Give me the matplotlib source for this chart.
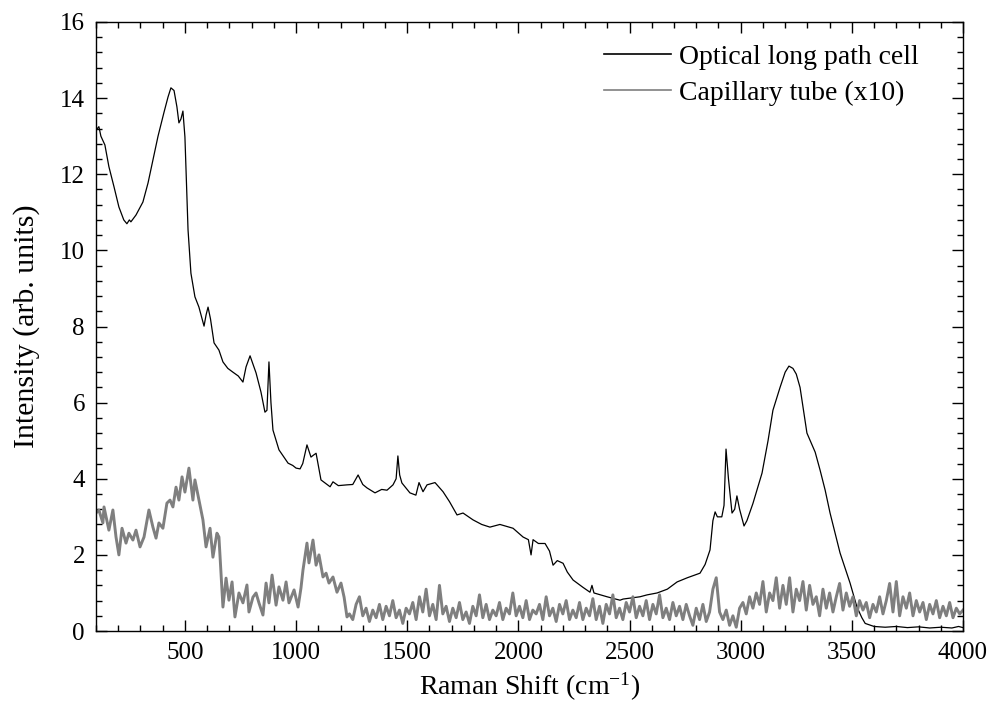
import matplotlib
matplotlib.use("Agg")
import matplotlib.pyplot as plt
from matplotlib.ticker import MultipleLocator
import numpy as np

plt.rcParams['font.family'] = ['Liberation Serif', 'DejaVu Serif']
plt.rcParams['mathtext.default'] = 'regular'

# ---- optical long path cell (black) ----
cell_x = [100, 113, 122, 140, 158, 181, 203, 225, 239, 250, 257, 280, 311, 334, 356,
          379, 406, 424, 437, 451, 464, 473, 482, 491, 500, 514, 527, 545, 563, 586,
          595, 604, 615, 631, 653, 671, 693, 716, 740, 761, 775, 793, 820, 842, 860,
          869, 878, 887, 896, 923, 964, 985, 1000, 1018, 1030, 1049, 1067, 1078, 1090,
          1112, 1153, 1166, 1190, 1229, 1255, 1279, 1300, 1319, 1355, 1385, 1409, 1436,
          1450, 1458, 1466, 1476, 1512, 1539, 1553, 1571, 1589, 1625, 1661, 1690, 1724,
          1751, 1796, 1835, 1872, 1917, 1976, 2021, 2045, 2057, 2066, 2090, 2120, 2140,
          2156, 2175, 2201, 2220, 2246, 2290, 2322, 2331, 2340, 2399, 2457, 2471, 2547,
          2579, 2624, 2670, 2714, 2760, 2817, 2840, 2862, 2875, 2885, 2895, 2915, 2925,
          2934, 2945, 2961, 2973, 2983, 2995, 3015, 3028, 3055, 3096, 3123, 3145, 3177,
          3200, 3217, 3235, 3250, 3267, 3298, 3335, 3357, 3380, 3402, 3447, 3492, 3523,
          3545, 3560, 3600, 3650, 3700, 3750, 3800, 3850, 3900, 3950, 3980, 4000]
cell_y = [13.16, 13.25, 13.0, 12.77, 12.2, 11.67, 11.14, 10.8, 10.7, 10.8, 10.75, 10.93,
          11.27, 11.77, 12.37, 13.0, 13.63, 14.03, 14.27, 14.2, 13.77, 13.35, 13.45, 13.66,
          12.98, 10.54, 9.4, 8.78, 8.51, 8.01, 8.3, 8.51, 8.2, 7.57, 7.38, 7.07, 6.9, 6.8,
          6.7, 6.54, 6.94, 7.23, 6.78, 6.28, 5.75, 5.8, 7.07, 6.0, 5.28, 4.76, 4.41, 4.35,
          4.28, 4.26, 4.4, 4.89, 4.57, 4.62, 4.67, 3.97, 3.79, 3.92, 3.82, 3.84, 3.85, 4.1,
          3.85, 3.76, 3.63, 3.72, 3.7, 3.84, 4.0, 4.6, 4.1, 3.89, 3.63, 3.57, 3.9, 3.66, 3.84,
          3.9, 3.66, 3.4, 3.05, 3.1, 2.92, 2.8, 2.73, 2.8, 2.7, 2.47, 2.4, 2.0, 2.4, 2.3, 2.3,
          2.1, 1.73, 1.85, 1.78, 1.55, 1.34, 1.15, 1.02, 1.2, 1.0, 0.9, 0.81, 0.84, 0.9, 0.95,
          1.0, 1.1, 1.29, 1.4, 1.52, 1.75, 2.13, 2.9, 3.13, 3.0, 3.0, 3.3, 4.78, 4.0, 3.1,
          3.2, 3.55, 3.2, 2.76, 2.9, 3.35, 4.15, 5.0, 5.8, 6.4, 6.8, 6.96, 6.9, 6.75, 6.4,
          5.2, 4.7, 4.23, 3.7, 3.1, 2.05, 1.26, 0.63, 0.35, 0.2, 0.12, 0.1, 0.12, 0.09, 0.11,
          0.08, 0.1, 0.08, 0.12, 0.09]

# ---- capillary tube x10 (gray) ----
tube_x_a = [100, 113, 131, 136, 158, 176, 190, 203, 217, 235, 248, 266, 280, 298, 316,
            338, 356, 370, 383, 401, 419, 433, 446, 460, 473, 487, 500, 518, 536, 545,
            563, 581, 595, 613, 626, 644, 653, 671, 685, 698, 712, 725, 743, 761, 779,
            788, 806, 820, 833, 851, 865, 878, 892, 910, 923, 941, 955, 968, 991, 1009,
            1022, 1031, 1049, 1058, 1076, 1090, 1103, 1121, 1135, 1148, 1166, 1184, 1202,
            1216, 1229]
tube_y_a = [3.1, 3.18, 2.84, 3.26, 2.65, 3.18, 2.47, 2.0, 2.7, 2.31, 2.57, 2.39, 2.65,
            2.21, 2.47, 3.18, 2.73, 2.44, 2.84, 2.7, 3.36, 3.44, 3.26, 3.78, 3.44, 4.05,
            3.65, 4.28, 3.44, 3.97, 3.44, 2.92, 2.21, 2.7, 1.94, 2.57, 2.47, 0.63, 1.39,
            0.81, 1.29, 0.37, 1.0, 0.74, 1.21, 0.5, 0.89, 1.0, 0.74, 0.42, 1.26, 0.74, 1.47,
            0.68, 1.16, 0.81, 1.29, 0.74, 1.08, 0.63, 1.13, 1.6, 2.31, 1.79, 2.39, 1.73, 2.0,
            1.42, 1.52, 1.26, 1.42, 1.02, 1.26, 0.89, 0.37]
tube_y_b = [0.45, 0.3, 0.7, 0.9, 0.4, 0.6, 0.25, 0.55, 0.35, 0.7,
            0.3, 0.65, 0.4, 0.8, 0.35, 0.55, 0.2, 0.6, 0.45, 0.75,
            0.3, 0.9, 0.5, 1.1, 0.4, 0.7, 0.3, 1.2, 0.45, 0.65,
            0.25, 0.6, 0.35, 0.75, 0.3, 0.5, 0.2, 0.65, 0.4, 0.95,
            0.35, 0.7, 0.3, 0.55, 0.4, 0.75, 0.3, 0.6, 0.45, 1.0,
            0.4, 0.65, 0.35, 0.8, 0.3, 0.55, 0.45, 0.7, 0.3, 0.9,
            0.4, 0.6, 0.25, 0.7, 0.45, 0.8, 0.3, 0.55, 0.35, 0.75,
            0.3, 0.6, 0.4, 0.85, 0.3, 0.65, 0.2, 0.7, 0.45, 0.95,
            0.35, 0.6, 0.3, 0.75, 0.5, 0.9, 0.35, 0.65, 0.4, 0.8,
            0.3, 0.7, 0.45, 0.95, 0.35, 0.6, 0.3, 0.75, 0.4, 0.65,
            0.3, 0.7, 0.4, 0.15, 0.6, 0.3, 0.7, 0.25, 0.5, 1.1,
            1.4, 0.5, 0.3, 0.55, 0.15, 0.4, 0.1, 0.6, 0.75, 0.45,
            0.9, 0.6, 1.0, 0.7, 1.3, 0.5, 1.0, 0.8, 1.4, 0.6,
            1.2, 0.7, 1.4, 0.5, 1.1, 0.8, 1.3, 0.55, 1.2, 0.7,
            0.9, 0.4, 1.1, 0.6, 1.0, 0.5, 0.9, 1.25, 0.55, 1.0,
            0.65, 0.9, 0.4, 0.8, 0.55, 0.75, 0.35, 0.7, 0.5, 0.9,
            0.45, 0.8, 1.25, 0.5, 1.3, 0.4, 0.9, 0.6, 1.0, 0.4,
            0.8, 0.5, 0.75, 0.3, 0.7, 0.45, 0.8, 0.35, 0.65, 0.4,
            0.75, 0.35, 0.6, 0.45, 0.55]
tube_x_b = np.linspace(1240, 4000, len(tube_y_b))

tube_x = np.concatenate([tube_x_a, tube_x_b])
tube_y = np.concatenate([tube_y_a, tube_y_b])

fig = plt.figure(figsize=(10, 7.14), dpi=100)
ax = fig.add_axes([0.096, 0.1162, 0.867, 0.853])

ax.plot(cell_x, cell_y, color='black', lw=0.9, label='Optical long path cell')
ax.plot(tube_x, tube_y, color='#7f7f7f', lw=2.1, label='Capillary tube (x10)')

ax.set_xlim(100, 4000)
ax.set_ylim(0, 16)
ax.xaxis.set_major_locator(MultipleLocator(500))
ax.xaxis.set_minor_locator(MultipleLocator(100))
ax.yaxis.set_major_locator(MultipleLocator(2))
ax.yaxis.set_minor_locator(MultipleLocator(0.4))
ax.tick_params(which='both', direction='in', top=True, right=True, labelsize=18, width=1)
ax.tick_params(which='major', length=8, pad=8)
ax.tick_params(which='minor', length=4.5)
for s in ax.spines.values():
    s.set_linewidth(1)

ax.set_xlabel('Raman Shift (cm$^{-1}$)', fontsize=20, labelpad=5)
ax.set_ylabel('Intensity (arb. units)', fontsize=21.5, labelpad=14)

leg = ax.legend(loc='upper right', frameon=False, fontsize=20, handlelength=2.4,
                handletextpad=0.3, labelspacing=0.4, borderaxespad=0.0,
                bbox_to_anchor=(0.962, 0.982))
for h in leg.get_lines():
    h.set_linewidth(1.2)

fig.savefig('out.png', dpi=100)
